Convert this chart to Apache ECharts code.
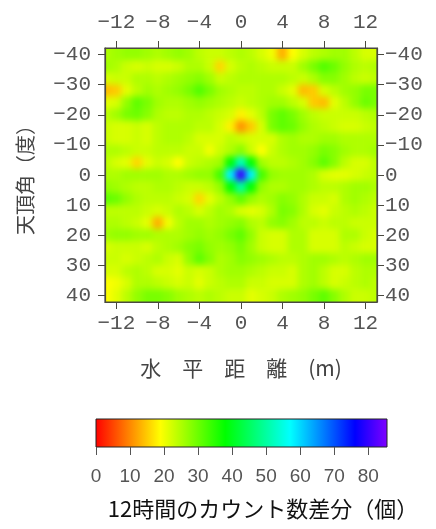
<!DOCTYPE html>
<html><head><meta charset="utf-8">
<script src="https://cdn.jsdelivr.net/npm/echarts@6/dist/echarts.min.js"></script>
<style>
html,body{margin:0;padding:0;background:#fff}
#wrap{position:relative;width:436px;height:529px}
#heatClip{position:absolute;left:105px;top:48px;width:272px;height:254px;overflow:hidden}
#heat{position:absolute;left:-15px;top:-15px;width:302px;height:284px;filter:blur(3px)}
#c{position:absolute;left:0;top:0;width:436px;height:529px}
</style>
</head><body><div id="wrap"><div id="heatClip"><div id="heat"></div></div><div id="c"></div></div>
<script>
// horizontal distance (m), cell centres
const xDist = [-13,-12,-11,-10,-9,-8,-7,-6,-5,-4,-3,-2,-1,0,1,2,3,4,5,6,7,8,9,10,11,12,13];
// zenith angle (deg), cell centres
const zenith = [-40,-36,-32,-28,-24,-20,-16,-12,-8,-4,0,4,8,12,16,20,24,28,32,36,40];
const xTicks = [-12,-8,-4,0,4,8,12];
const yTicks = [-40,-30,-20,-10,0,10,20,30,40];
const cbTicks = [0,10,20,30,40,50,60,70,80];

// count difference per row (one row per zenith angle, columns follow xDist)
const zM40 = [25,26,27,27,26,25,26,27,26,24,23,23,24,25,24,22,20,13,19,22,24,25,26,26,24,22,22];
const zM36 = [26,25,23,22,23,22,22,23,25,25,23,16,22,24,25,24,23,23,23,26,29,32,30,27,25,24,25];
const zM32 = [22,23,23,25,25,24,25,26,27,28,26,23,24,25,25,25,25,25,24,23,25,28,28,26,24,23,24];
const zM28 = [14,15,21,24,26,25,26,27,29,32,29,26,25,24,24,25,25,23,21,14,15,22,24,26,27,29,29];
const zM24 = [21,22,27,31,29,26,25,25,26,27,26,25,24,23,24,25,26,26,24,22,15,14,21,24,27,30,29];
const zM20 = [24,26,29,30,28,25,24,24,25,25,24,23,22,18,21,24,29,31,29,26,24,23,23,23,23,24,25];
const zM16 = [23,22,22,23,22,24,25,25,25,24,24,22,18,11,15,22,29,31,30,27,25,24,23,22,22,23,24];
const zM12 = [23,22,22,23,22,24,25,25,24,22,22,22,24,23,22,22,22,25,26,25,25,26,26,25,25,25,25];
const zM8  = [25,25,24,23,23,24,24,24,23,23,20,23,25,28,23,19,23,25,26,26,27,29,28,26,25,25,26];
const zM4  = [24,22,21,16,21,23,22,19,23,24,25,26,38,52,38,26,24,24,25,26,28,31,28,24,22,22,24];
const z0   = [25,25,26,26,26,26,25,25,26,27,27,33,58,80,58,33,27,26,26,26,25,22,21,21,22,23,24];
const zP4  = [27,26,25,24,24,25,25,24,23,23,24,27,38,50,38,27,25,25,26,26,25,24,24,25,26,26,25];
const zP8  = [31,30,27,25,24,24,24,23,22,16,21,24,27,31,27,25,26,28,27,25,23,23,22,25,26,25,24];
const zP12 = [24,24,24,24,23,22,23,25,24,22,24,26,25,22,21,22,25,29,28,25,22,21,23,24,25,24,23];
const zP16 = [25,25,24,23,21,13,20,24,26,26,25,26,27,28,25,24,27,28,26,24,24,23,24,24,23,23,23];
const zP20 = [26,27,27,26,26,25,25,25,26,27,26,27,29,31,27,23,22,22,25,25,22,22,22,25,25,23,22];
const zP24 = [22,23,23,23,22,24,25,26,28,29,27,26,27,29,26,23,22,22,25,25,22,22,22,24,23,22,22];
const zP28 = [23,23,22,23,24,25,23,22,27,31,28,25,26,28,27,26,25,24,24,25,26,26,25,24,25,26,26];
const zP32 = [22,22,24,25,24,22,22,21,23,22,23,25,26,26,25,24,23,23,22,25,26,24,22,22,24,25,25];
const zP36 = [19,20,22,25,25,24,23,22,23,21,23,24,25,25,23,23,22,22,22,25,26,24,22,23,24,25,24];
const zP40 = [19,21,24,27,29,29,28,26,25,24,25,24,23,23,21,22,23,25,26,27,29,31,28,25,23,23,24];

const zRows = [zM40,zM36,zM32,zM28,zM24,zM20,zM16,zM12,zM8,zM4,z0,zP4,zP8,zP12,zP16,zP20,zP24,zP28,zP32,zP36,zP40];

const cellData = [];
zRows.forEach((row, r) => row.forEach((v, c) => cellData.push([xDist[c], zenith[r], v])));

const hueColors = ['#ff0000','#ff8000','#ffff00','#80ff00','#00ff00','#00ff80','#00ffff','#0080ff','#0000ff','#8000ff'];
const cbMax = 85.5;
const xMin = -13.1, xMax = 13.1, yMin = -42.2, yMax = 42.2;
const minusFmt = v => String(v).replace('-', '\u2212');

const axisCol = '#4a4a40';
const labelCol = '#555';
const monoLabel = {fontFamily: 'Liberation Mono', fontSize: 21, color: labelCol};

// ---- heat layer (smoothed by a CSS blur, clipped to the plot area) ----
const heat = echarts.init(document.getElementById('heat'), null, {renderer: 'canvas'});
const xFirst = xDist[0], xLast = xDist[xDist.length - 1];
const yFirst = zenith[0], yLast = zenith[zenith.length - 1];
heat.setOption({
  animation: false,
  grid: {left: 15, top: 15, width: 272, height: 254, show: false},
  visualMap: {show: false, type: 'continuous', min: 0, max: cbMax, dimension: 2, seriesIndex: 0, inRange: {color: hueColors}},
  xAxis: {type: 'value', min: xMin, max: xMax, show: false},
  yAxis: {type: 'value', inverse: true, min: yMin, max: yMax, show: false},
  series: [{
    type: 'custom', clip: false, silent: true,
    encode: {x: 0, y: 1},
    data: cellData,
    renderItem: function (params, api) {
      const x = api.value(0), y = api.value(1);
      const p0 = api.coord([x - 0.5, y - 2]);
      const p1 = api.coord([x + 0.5, y + 2]);
      let l = Math.min(p0[0], p1[0]), r = Math.max(p0[0], p1[0]);
      let t = Math.min(p0[1], p1[1]), b = Math.max(p0[1], p1[1]);
      if (x === xFirst) l -= 20;
      if (x === xLast) r += 20;
      if (y === yFirst) t -= 20;
      if (y === yLast) b += 20;
      return {type: 'rect',
        shape: {x: l - 0.3, y: t - 0.3, width: r - l + 0.6, height: b - t + 0.6},
        style: {fill: api.visual('color')}};
    }
  }]
});

// ---- axes, frame, colour bar, texts ----
const chart = echarts.init(document.getElementById('c'), null, {renderer: 'canvas'});
chart.setOption({
  animation: false,
  backgroundColor: 'transparent',
  grid: [
    {left: 105, top: 48, width: 272, height: 254, show: true, borderColor: axisCol, borderWidth: 1.2, backgroundColor: 'transparent'},
    {left: 96, top: 419, width: 291, height: 28, show: true, borderColor: '#222', borderWidth: 1,
     backgroundColor: {type: 'linear', x: 0, y: 0, x2: 1, y2: 0,
       colorStops: hueColors.map((c, i) => ({offset: i / (hueColors.length - 1), color: c}))}}
  ],
  xAxis: [
    {gridIndex: 0, type: 'value', position: 'bottom', min: xMin, max: xMax,
     name: '水　平　距　離　(m)', nameLocation: 'middle', nameGap: 56,
     nameTextStyle: {fontFamily: 'Noto Sans CJK JP', fontSize: 21, color: '#444'},
     axisLine: {show: true, onZero: false, lineStyle: {color: axisCol, width: 1.2}},
     axisTick: {show: true, inside: false, length: 7, customValues: xTicks, lineStyle: {color: axisCol}},
     axisLabel: Object.assign({margin: 11, customValues: xTicks, formatter: minusFmt}, monoLabel),
     splitLine: {show: false}},
    {gridIndex: 0, type: 'value', position: 'top', min: xMin, max: xMax,
     axisLine: {show: true, onZero: false, lineStyle: {color: axisCol, width: 1.2}},
     axisTick: {show: true, inside: false, length: 7, customValues: xTicks, lineStyle: {color: axisCol}},
     axisLabel: Object.assign({margin: 15, customValues: xTicks, formatter: minusFmt}, monoLabel),
     splitLine: {show: false}},
    {gridIndex: 1, type: 'value', position: 'bottom', min: 0, max: cbMax,
     axisLine: {show: false},
     axisTick: {show: true, inside: false, length: 8, customValues: cbTicks, lineStyle: {color: '#555'}},
     axisLabel: {margin: 20, customValues: cbTicks, fontFamily: 'Liberation Sans', fontSize: 19, color: labelCol},
     splitLine: {show: false}}
  ],
  yAxis: [
    {gridIndex: 0, type: 'value', position: 'left', inverse: true, min: yMin, max: yMax,
     name: '天頂角（度）', nameLocation: 'middle', nameGap: 70,
     nameTextStyle: {fontFamily: 'Noto Sans CJK JP', fontSize: 20, color: '#444'},
     axisLine: {show: true, onZero: false, lineStyle: {color: axisCol, width: 1.2}},
     axisTick: {show: true, inside: false, length: 7, customValues: yTicks, lineStyle: {color: axisCol}},
     axisLabel: Object.assign({margin: 14, customValues: yTicks, formatter: minusFmt}, monoLabel),
     splitLine: {show: false}},
    {gridIndex: 0, type: 'value', position: 'right', inverse: true, min: yMin, max: yMax,
     axisLine: {show: true, onZero: false, lineStyle: {color: axisCol, width: 1.2}},
     axisTick: {show: true, inside: false, length: 7, customValues: yTicks, lineStyle: {color: axisCol}},
     axisLabel: Object.assign({margin: 8, customValues: yTicks, formatter: minusFmt}, monoLabel),
     splitLine: {show: false}},
    {gridIndex: 1, type: 'value', show: false, min: 0, max: 1}
  ],
  graphic: [
    {type: 'text', x: 263, y: 509, style: {text: '12時間のカウント数差分（個）', textAlign: 'center', textVerticalAlign: 'middle',
      fontFamily: 'Noto Sans CJK JP', fontSize: 22, fill: '#111'}}
  ]
});
</script></body></html>
